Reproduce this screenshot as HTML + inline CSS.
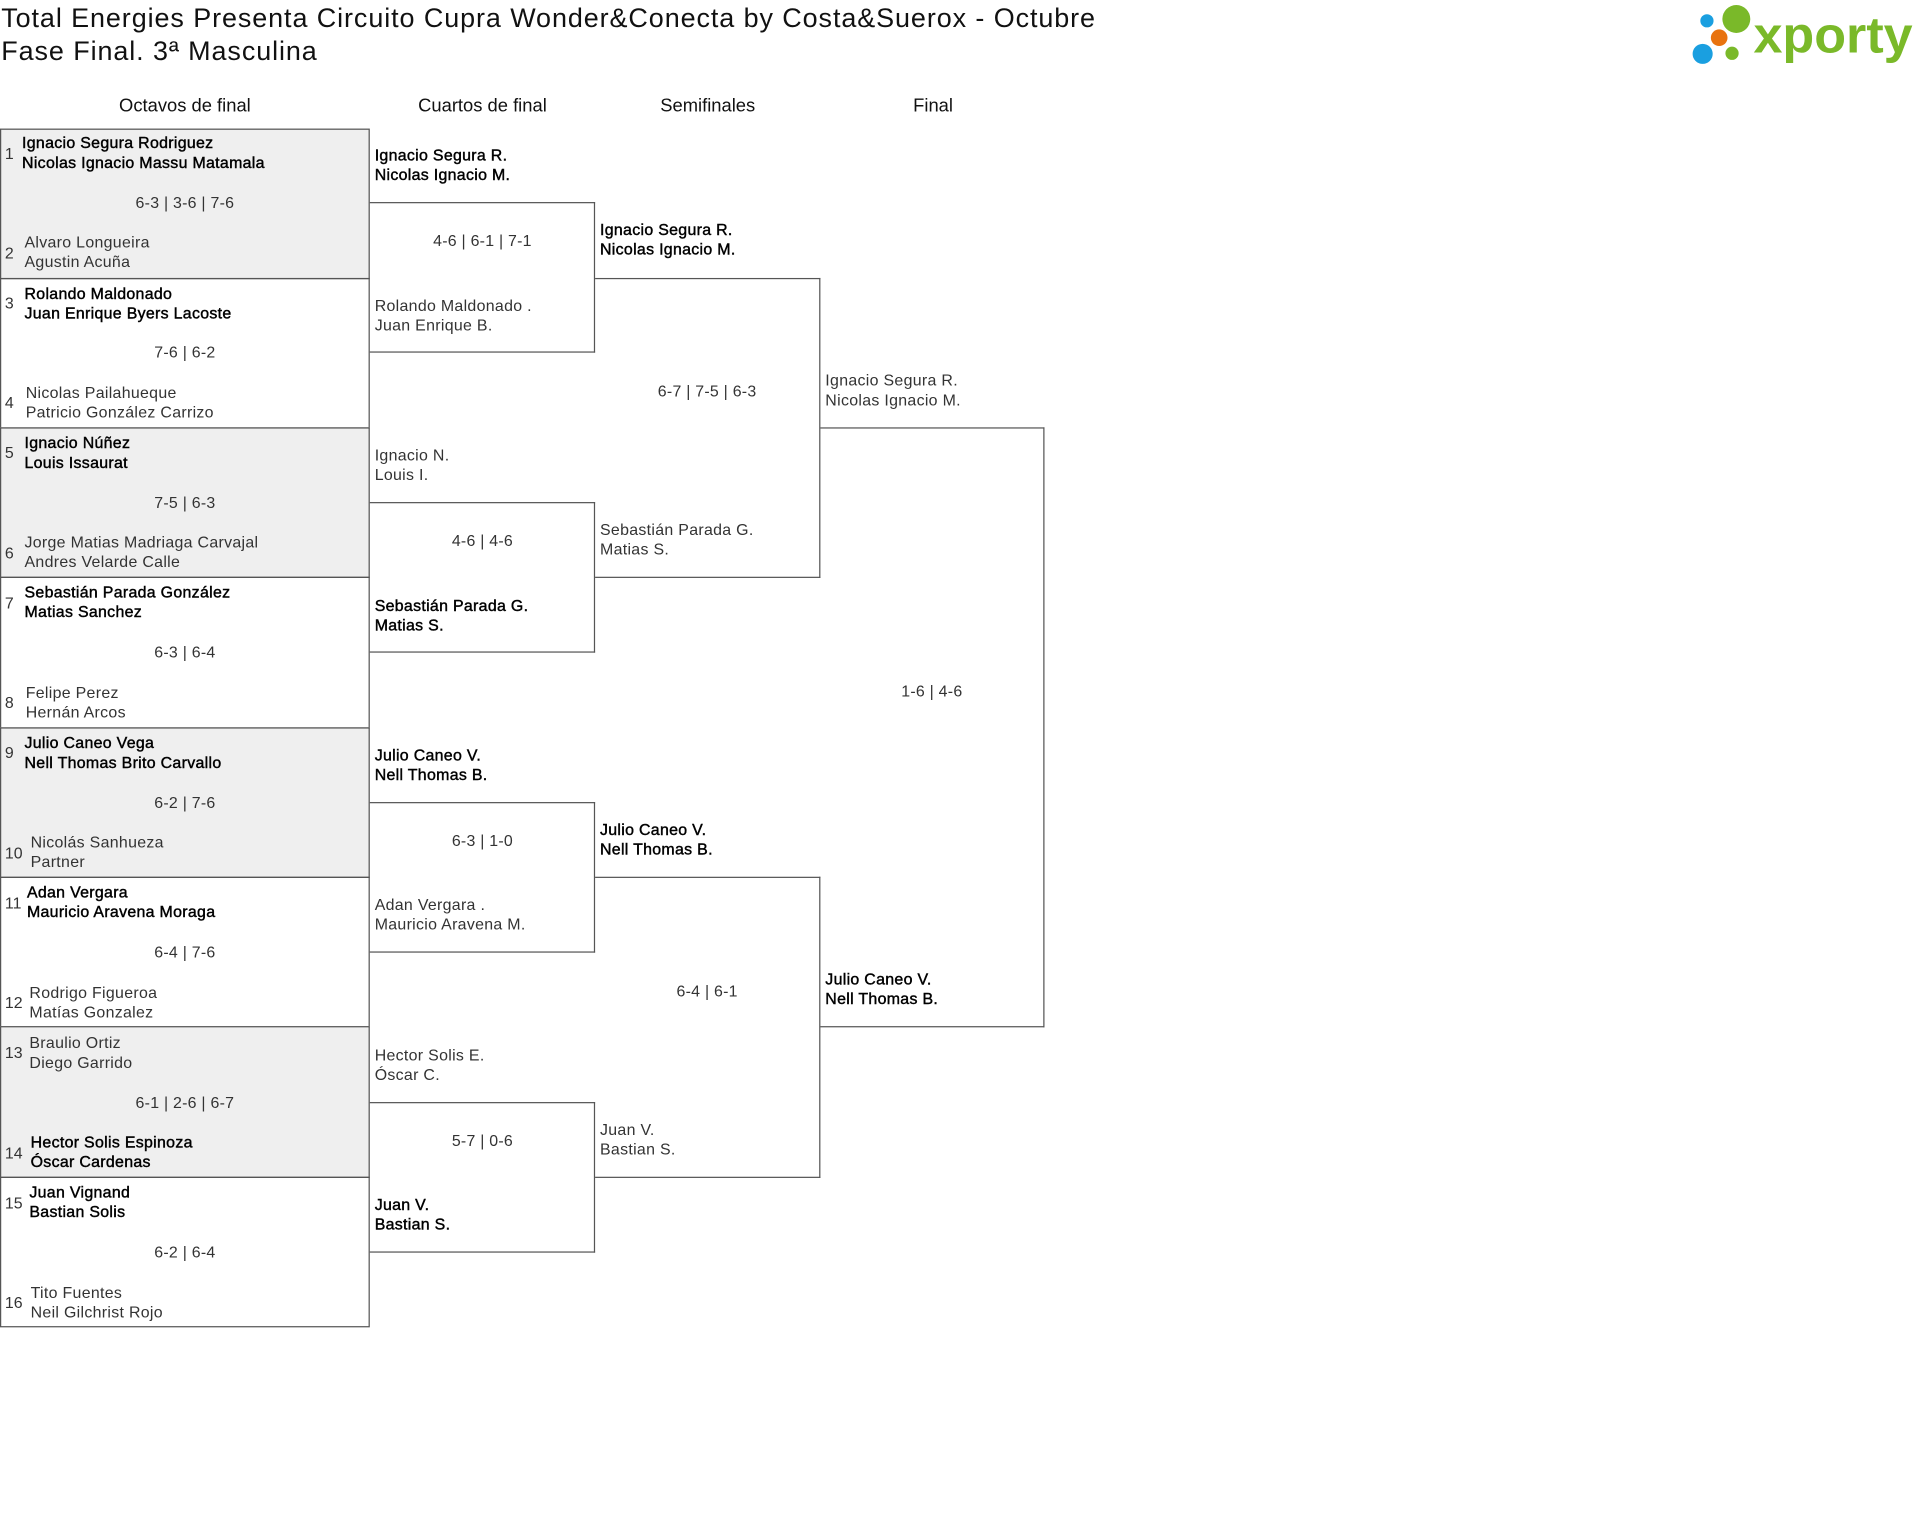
<!DOCTYPE html>
<html><head><meta charset="utf-8"><style>
html,body{margin:0;padding:0;background:#fff;}
body{width:1920px;height:1525px;overflow:hidden;position:relative;}
#s{position:absolute;left:0;top:0;width:1568px;height:1246px;transform:scale(1.22449);transform-origin:0 0;font-family:"Liberation Sans",sans-serif;color:#222;}
.a{position:absolute;white-space:nowrap;}
.t{font-size:22px;color:#111;left:1px;line-height:27px;letter-spacing:0.75px;}
.h{font-size:15px;color:#111;text-align:center;width:200px;top:78px;}
.b{position:absolute;border:1px solid #555;box-sizing:border-box;}
.o{border-left:none;}
.g{background:#efefef;}
.n{font-size:13px;line-height:15.5px;color:#333;letter-spacing:0.25px;}
.w{color:#000;-webkit-text-stroke:0.35px #000;}
.sc{font-size:13px;line-height:15px;text-align:center;color:#333;letter-spacing:0.2px;}
.sd{font-size:13px;color:#333;}
</style></head><body><div id="s">
<div class="a t" style="top:1px">Total Energies Presenta Circuito Cupra Wonder&amp;Conecta by Costa&amp;Suerox - Octubre</div>
<div class="a t" style="top:28px">Fase Final. 3ª Masculina</div>
<svg class="a" style="left:1375px;top:0" width="193" height="60">
<circle cx="19" cy="17" r="5.4" fill="#1a9fe0"/><circle cx="43" cy="15.5" r="11.4" fill="#7ab929"/><circle cx="29" cy="30.8" r="6.8" fill="#e8730f"/><circle cx="15.5" cy="44" r="8.2" fill="#1a9fe0"/><circle cx="39.5" cy="43.5" r="5.4" fill="#7ab929"/>
<text x="57" y="43" font-family="Liberation Sans" font-weight="bold" font-size="42" fill="#7ab929" textLength="130" lengthAdjust="spacingAndGlyphs">xporty</text></svg>
<div class="a h" style="left:51px">Octavos de final</div>
<div class="a h" style="left:294px">Cuartos de final</div>
<div class="a h" style="left:478px">Semifinales</div>
<div class="a h" style="left:662px">Final</div>

<!-- Round 1 -->
<div class="b g" style="left:0;top:105px;width:302px;height:123px"></div>
<div class="b" style="left:0;top:227px;width:302px;height:123px"></div>
<div class="b g" style="left:0;top:349px;width:302px;height:123px"></div>
<div class="b" style="left:0;top:471px;width:302px;height:124px"></div>
<div class="b g" style="left:0;top:594px;width:302px;height:123px"></div>
<div class="b" style="left:0;top:716px;width:302px;height:123px"></div>
<div class="b g" style="left:0;top:838px;width:302px;height:124px"></div>
<div class="b" style="left:0;top:961px;width:302px;height:123px"></div>

<div class="a sd" style="left:4px;top:118px">1</div><div class="a n w" style="left:18px;top:109px">Ignacio Segura Rodriguez<br>Nicolas Ignacio Massu Matamala</div>
<div class="a sc" style="left:0;width:302px;top:158px">6-3 | 3-6 | 7-6</div>
<div class="a sd" style="left:4px;top:199px">2</div><div class="a n" style="left:20px;top:190px">Alvaro Longueira<br>Agustin Acuña</div>

<div class="a sd" style="left:4px;top:240px">3</div><div class="a n w" style="left:20px;top:232px">Rolando Maldonado<br>Juan Enrique Byers Lacoste</div>
<div class="a sc" style="left:0;width:302px;top:280px">7-6 | 6-2</div>
<div class="a sd" style="left:4px;top:321px">4</div><div class="a n" style="left:21px;top:313px">Nicolas Pailahueque<br>Patricio González Carrizo</div>

<div class="a sd" style="left:4px;top:362px">5</div><div class="a n w" style="left:20px;top:354px">Ignacio Núñez<br>Louis Issaurat</div>
<div class="a sc" style="left:0;width:302px;top:403px">7-5 | 6-3</div>
<div class="a sd" style="left:4px;top:444px">6</div><div class="a n" style="left:20px;top:435px">Jorge Matias Madriaga Carvajal<br>Andres Velarde Calle</div>

<div class="a sd" style="left:4px;top:485px">7</div><div class="a n w" style="left:20px;top:476px">Sebastián Parada González<br>Matias Sanchez</div>
<div class="a sc" style="left:0;width:302px;top:525px">6-3 | 6-4</div>
<div class="a sd" style="left:4px;top:566px">8</div><div class="a n" style="left:21px;top:558px">Felipe Perez<br>Hernán Arcos</div>

<div class="a sd" style="left:4px;top:607px">9</div><div class="a n w" style="left:20px;top:599px">Julio Caneo Vega<br>Nell Thomas Brito Carvallo</div>
<div class="a sc" style="left:0;width:302px;top:648px">6-2 | 7-6</div>
<div class="a sd" style="left:4px;top:689px">10</div><div class="a n" style="left:25px;top:680px">Nicolás Sanhueza<br>Partner</div>

<div class="a sd" style="left:4px;top:730px">11</div><div class="a n w" style="left:22px;top:721px">Adan Vergara<br>Mauricio Aravena Moraga</div>
<div class="a sc" style="left:0;width:302px;top:770px">6-4 | 7-6</div>
<div class="a sd" style="left:4px;top:811px">12</div><div class="a n" style="left:24px;top:803px">Rodrigo Figueroa<br>Matías Gonzalez</div>

<div class="a sd" style="left:4px;top:852px">13</div><div class="a n" style="left:24px;top:844px">Braulio Ortiz<br>Diego Garrido</div>
<div class="a sc" style="left:0;width:302px;top:893px">6-1 | 2-6 | 6-7</div>
<div class="a sd" style="left:4px;top:934px">14</div><div class="a n w" style="left:25px;top:925px">Hector Solis Espinoza<br>Óscar Cardenas</div>

<div class="a sd" style="left:4px;top:975px">15</div><div class="a n w" style="left:24px;top:966px">Juan Vignand<br>Bastian Solis</div>
<div class="a sc" style="left:0;width:302px;top:1015px">6-2 | 6-4</div>
<div class="a sd" style="left:4px;top:1056px">16</div><div class="a n" style="left:25px;top:1048px">Tito Fuentes<br>Neil Gilchrist Rojo</div>

<!-- Round 2 -->
<div class="b o" style="left:302px;top:165px;width:184px;height:123px"></div>
<div class="b o" style="left:302px;top:410px;width:184px;height:123px"></div>
<div class="b o" style="left:302px;top:655px;width:184px;height:123px"></div>
<div class="b o" style="left:302px;top:900px;width:184px;height:123px"></div>

<div class="a n w" style="left:306px;top:119px">Ignacio Segura R.<br>Nicolas Ignacio M.</div>
<div class="a sc" style="left:302px;width:184px;top:189px">4-6 | 6-1 | 7-1</div>
<div class="a n" style="left:306px;top:242px">Rolando Maldonado .<br>Juan Enrique B.</div>

<div class="a n" style="left:306px;top:364px">Ignacio N.<br>Louis I.</div>
<div class="a sc" style="left:302px;width:184px;top:434px">4-6 | 4-6</div>
<div class="a n w" style="left:306px;top:487px">Sebastián Parada G.<br>Matias S.</div>

<div class="a n w" style="left:306px;top:609px">Julio Caneo V.<br>Nell Thomas B.</div>
<div class="a sc" style="left:302px;width:184px;top:679px">6-3 | 1-0</div>
<div class="a n" style="left:306px;top:731px">Adan Vergara .<br>Mauricio Aravena M.</div>

<div class="a n" style="left:306px;top:854px">Hector Solis E.<br>Óscar C.</div>
<div class="a sc" style="left:302px;width:184px;top:924px">5-7 | 0-6</div>
<div class="a n w" style="left:306px;top:976px">Juan V.<br>Bastian S.</div>

<!-- Round 3 -->
<div class="b o" style="left:486px;top:227px;width:184px;height:245px"></div>
<div class="b o" style="left:486px;top:716px;width:184px;height:246px"></div>
<div class="a n w" style="left:490px;top:180px">Ignacio Segura R.<br>Nicolas Ignacio M.</div>
<div class="a sc" style="left:486px;width:183px;top:312px">6-7 | 7-5 | 6-3</div>
<div class="a n" style="left:490px;top:425px">Sebastián Parada G.<br>Matias S.</div>
<div class="a n w" style="left:490px;top:670px">Julio Caneo V.<br>Nell Thomas B.</div>
<div class="a sc" style="left:486px;width:183px;top:802px">6-4 | 6-1</div>
<div class="a n" style="left:490px;top:915px">Juan V.<br>Bastian S.</div>

<!-- Final -->
<div class="b o" style="left:670px;top:349px;width:183px;height:490px"></div>
<div class="a n" style="left:674px;top:303px">Ignacio Segura R.<br>Nicolas Ignacio M.</div>
<div class="a sc" style="left:669px;width:184px;top:557px">1-6 | 4-6</div>
<div class="a n w" style="left:674px;top:792px">Julio Caneo V.<br>Nell Thomas B.</div>
</div></body></html>
